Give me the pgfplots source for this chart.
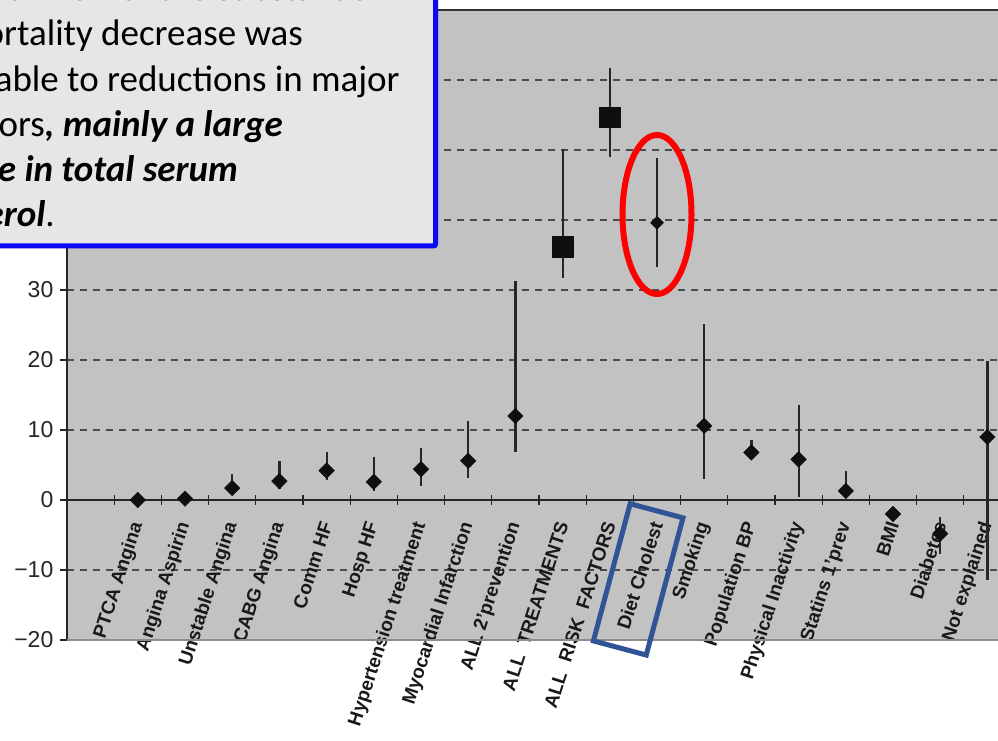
\documentclass[border=0pt]{standalone}
\usepackage{fontspec}
\setmainfont{Liberation Sans}
\newfontfamily\carlito{Carlito}
\usepackage{pgfplots}
\pgfplotsset{compat=1.18}
\definecolor{plotgray}{RGB}{194,194,194}
\definecolor{boxgray}{RGB}{230,230,230}
\definecolor{boxblue}{RGB}{10,10,245}
\definecolor{rectblue}{RGB}{47,85,151}
\definecolor{gridgray}{RGB}{75,75,75}
\definecolor{markblack}{RGB}{15,15,15}
\begin{document}
\begin{tikzpicture}
\path[use as bounding box] (-67pt,-101pt) rectangle (931pt,640pt);
\fill[white] (-67pt,-101pt) rectangle (931pt,640pt);
\clip (-67pt,-101pt) rectangle (931pt,640pt);
\begin{axis}[
  at={(0pt,0pt)}, anchor=south west,
  x=47.2pt, y=7pt,
  xmin=-1.5, xmax=18.5, ymin=-20, ymax=70,
  clip=false,
  axis background/.style={fill=plotgray},
  axis x line=middle, axis y line=left,
  axis line style={-, line width=1.6pt, black!85},
  every inner x axis line/.append style={-},
  every outer y axis line/.append style={-},
  hide obscured x ticks=false, hide obscured y ticks=false,
  tick align=center,
  xtick={0,...,18},
  xticklabels={PTCA Angina, Angina Aspirin, Unstable Angina, CABG Angina, Comm HF, Hosp HF, Hypertension treatment\hspace{10pt}, Myocardial Infarction, ALL 2'prevention\hspace{6pt}, ALL\ \ TREATMENTS, ALL\ \ RISK\ \ FACTORS, Diet Cholest\hspace{4pt}, Smoking\hspace{4pt}, Population BP, Physical Inactivity, Statins 1'prev\hspace{4pt}, BMI, Diabetes, Not explained},
  xticklabel style={rotate=72, anchor=east, inner sep=0pt, text=black!90, font=\bfseries\fontsize{19}{22}\selectfont},
  xticklabel shift=19pt,
  major x tick style={draw=none},
  minor xtick={-0.5,0.5,...,18.5},
  minor tick length=10pt,
  minor x tick style={line width=1.3pt, black!85},
  ytick={-20,-10,...,70},
  yticklabels={−20,−10,0,10,20,30,40,50,60,70},
  yticklabel style={anchor=east, inner sep=0pt, text=black!85, font=\fontsize{23}{26}\selectfont},
  yticklabel shift=10pt,
  major tick length=7pt,
  major y tick style={line width=1.3pt, black!85, xshift=-3.5pt},
  ymajorgrids,
  grid style={gridgray, line width=2pt, dash pattern=on 7pt off 6pt},
]
% diamonds (error bars drawn with them)
\addplot[only marks, mark=square*, mark size=5.5pt,
  mark options={rotate=45, fill=markblack, draw=markblack},
  error bars/.cd, y dir=both, y explicit, error mark=none,
  error bar style={line width=2.2pt, black!85}]
  table[x=x, y=y, y error plus=ep, y error minus=em] {
x y ep em
0 0.0 0 0
1 0.2 0 0
2 1.7 2.0 0.9
3 2.7 2.8 1.2
4 4.2 2.6 1.3
5 2.6 3.6 1.3
6 4.4 3.0 2.4
7 5.6 5.7 2.4
8 12.0 19.3 5.1
12 10.6 14.6 7.6
13 6.8 1.7 1.0
14 5.8 7.8 5.4
15 1.3 2.9 0.8
16 -2.0 0 0
17 -4.8 2.3 2.9
18 9.0 10.8 20.4
};
% squares: totals
\addplot[only marks, mark=square*, mark size=10.3pt,
  mark options={fill=markblack, draw=markblack},
  error bars/.cd, y dir=both, y explicit, error mark=none,
  error bar style={line width=2.2pt, black!85}]
  table[x=x, y=y, y error plus=ep, y error minus=em] {
x y ep em
9 36.2 14.0 4.5
10 54.7 7.0 5.7
};
% diet cholesterol
\addplot[only marks, mark=square*, mark size=4.6pt,
  mark options={rotate=45, fill=markblack, draw=markblack},
  error bars/.cd, y dir=both, y explicit, error mark=none,
  error bar style={line width=1.3pt, black!85}]
  table[x=x, y=y, y error plus=ep, y error minus=em] {
x y ep em
11 39.6 9.2 6.3
};
\draw[line width=1.6pt, black!80] (axis cs:-1.5,70) -- (axis cs:18.5,70);
\draw[line width=1.3pt, black!45] (axis cs:-1.5,-20) -- (axis cs:18.5,-20);
\end{axis}
% annotation text box
\filldraw[fill=boxgray, draw=boxblue, line width=5pt, rounded corners=2pt] (-300pt,394pt) rectangle (368.5pt,800pt);
\begin{scope}[every node/.style={anchor=base east, inner sep=0pt, font=\carlito\fontsize{37}{44}\selectfont}]
\node at (313pt,639pt) {More than half of the substantial};
\node at (236pt,594pt) {CHD mortality decrease was};
\node at (333pt,548pt) {attributable to reductions in major};
\node at (216pt,503pt) {risk factors\textbf{\textit{, mainly a large}}};
\node at (171pt,458pt) {\textbf{\textit{decrease in total serum}}};
\node at (-12pt,413pt) {\textbf{\textit{cholesterol}}.};
\end{scope}
% highlight marks
\draw[red, line width=6pt] (590pt,425.5pt) ellipse [x radius=34.5pt, y radius=79.5pt];
\node[draw=rectblue, line width=5pt, minimum width=54.7pt, minimum height=142pt, rotate=-15, inner sep=0pt] at (571.2pt,60.6pt) {};
\end{tikzpicture}
\end{document}
